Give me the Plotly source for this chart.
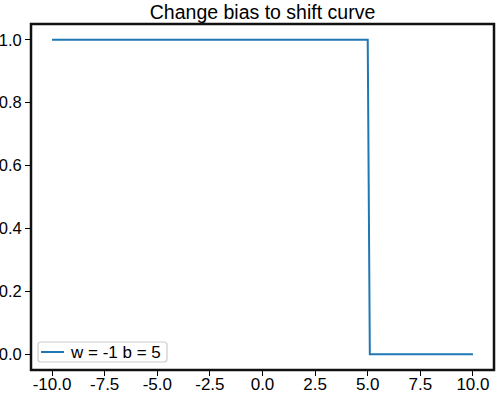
import plotly.graph_objects as go

x_vals = [-10.0, 5.0, 5.1, 10.0]
y_vals = [1.0, 1.0, 0.0, 0.0]
x_ticks = [-10.0, -7.5, -5.0, -2.5, 0.0, 2.5, 5.0, 7.5, 10.0]
x_tick_labels = ["-10.0", "-7.5", "-5.0", "-2.5", "0.0", "2.5", "5.0", "7.5", "10.0"]
y_ticks = [0.0, 0.2, 0.4, 0.6, 0.8, 1.0]
y_tick_labels = ["0.0", "0.2", "0.4", "0.6", "0.8", "1.0"]
series_name = "w = -1 b = 5"
title_text = "Change bias to shift curve"
line_color = "#1f77b4"

fig = go.Figure()
fig.add_trace(go.Scatter(x=x_vals, y=y_vals, mode="lines", name=series_name,
                         line=dict(color=line_color, width=2), showlegend=False))

W, H = 496, 394
L, R, T, B = 31, 494, 24, 370
PW, PH = R - L, B - T


def px(xp):
    return (xp - L) / PW


def py(yp):
    return (B - yp) / PH


# axes frame
fig.add_shape(type="rect", xref="paper", yref="paper", x0=0, x1=1, y0=0, y1=1,
              line=dict(color="#111111", width=2.5), fillcolor="rgba(0,0,0,0)", layer="above")

# legend drawn by hand (matplotlib style box)
bx0, bx1, by0, by1 = 38, 167, 342, 362
r = 3
path = (f"M {px(bx0 + r)},{py(by0)} L {px(bx1 - r)},{py(by0)} "
        f"Q {px(bx1)},{py(by0)} {px(bx1)},{py(by0 + r)} L {px(bx1)},{py(by1 - r)} "
        f"Q {px(bx1)},{py(by1)} {px(bx1 - r)},{py(by1)} L {px(bx0 + r)},{py(by1)} "
        f"Q {px(bx0)},{py(by1)} {px(bx0)},{py(by1 - r)} L {px(bx0)},{py(by0 + r)} "
        f"Q {px(bx0)},{py(by0)} {px(bx0 + r)},{py(by0)} Z")
fig.add_shape(type="path", path=path, xref="paper", yref="paper",
              line=dict(color="#cccccc", width=1.2), fillcolor="rgba(255,255,255,0.8)")
ly = 352
fig.add_shape(type="line", xref="paper", yref="paper", x0=px(41), x1=px(64), y0=py(ly), y1=py(ly),
              line=dict(color=line_color, width=2))
fig.add_annotation(text=series_name, xref="paper", yref="paper", x=px(68), y=py(ly),
                   xanchor="left", yanchor="middle", showarrow=False,
                   font=dict(size=17, color="black"))

fig.update_layout(
    width=W, height=H,
    margin=dict(l=L, r=W - R, t=T, b=H - B, pad=0, autoexpand=False),
    paper_bgcolor="white", plot_bgcolor="white",
    font=dict(family="Liberation Sans, Arial, sans-serif", size=17, color="black"),
    title=dict(text=title_text, x=0.5, xanchor="center", xref="paper",
               y=1 - 12 / H, yanchor="middle", font=dict(size=19.5)),
    showlegend=False,
)
fig.update_xaxes(range=[-11, 11], tickvals=x_ticks, ticktext=x_tick_labels, automargin=False,
                 showline=True, linecolor="black", linewidth=1, mirror=True,
                 ticks="outside", ticklen=5, tickcolor="black", showgrid=False, zeroline=False,
                 ticklabelstandoff=-6)
fig.update_yaxes(range=[-0.05, 1.05], tickvals=y_ticks, ticktext=y_tick_labels, automargin=False,
                 showline=True, linecolor="black", linewidth=1, mirror=True,
                 ticks="outside", ticklen=5, tickcolor="black", showgrid=False, zeroline=False,
                 tickfont=dict(size=16.5))

fig.write_html("out.html", config={"displayModeBar": False},
               post_script="document.body.style.margin='0';document.body.style.padding='0';")
